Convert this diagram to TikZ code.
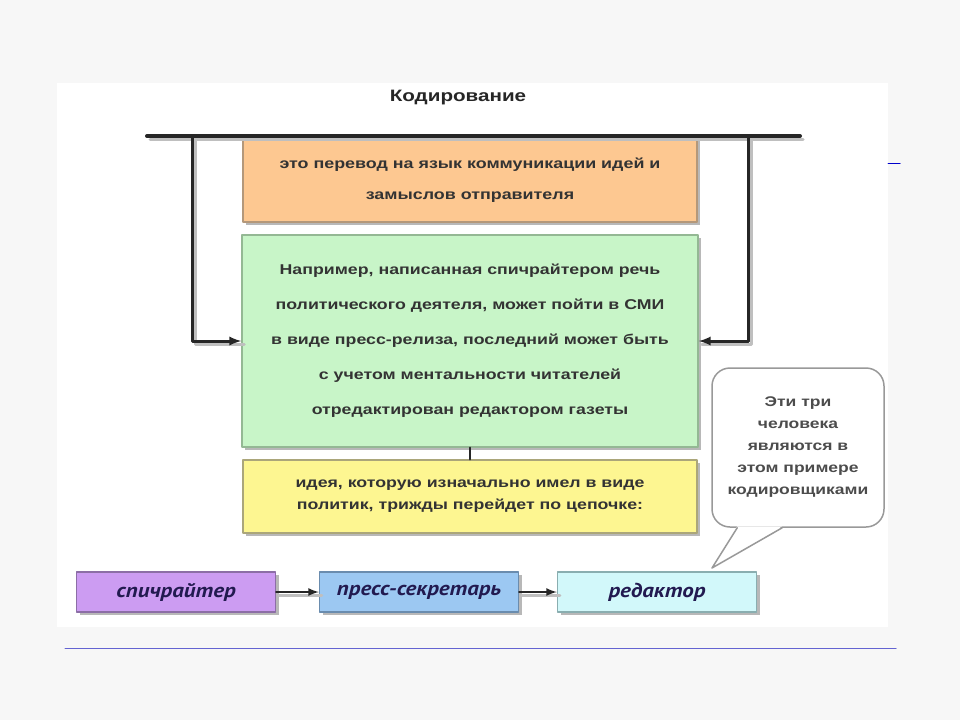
\documentclass[tikz,border=0pt]{standalone}
\usepackage{fontspec}
\setmainfont{Liberation Sans}[FakeStretch=1.25]
\newfontfamily\labelfont{PT Sans}[FakeStretch=1.15]
\usetikzlibrary{arrows,calc,shadows}
\definecolor{pagebg}{HTML}{F7F7F7}
\definecolor{orangefill}{HTML}{FDC891}
\definecolor{orangeline}{HTML}{B4987A}
\definecolor{greenfill}{HTML}{C8F5C8}
\definecolor{greenline}{HTML}{94B894}
\definecolor{yellowfill}{HTML}{FDF691}
\definecolor{yellowline}{HTML}{ABA67A}
\definecolor{purplefill}{HTML}{CC9CF2}
\definecolor{purpleline}{HTML}{8C6EA6}
\definecolor{bluefill}{HTML}{9CC8F2}
\definecolor{blueline}{HTML}{6A8CAE}
\definecolor{cyanfill}{HTML}{D2F8FA}
\definecolor{cyanline}{HTML}{8AAEB0}
\definecolor{labeltext}{HTML}{221A50}
\definecolor{rulecolor}{HTML}{6464D2}
\tikzstyle{every path}=[line cap=round,line join=round]
\tikzstyle{box}=[draw,line width=1.5pt,align=center,text=black!80,
  drop shadow={shadow xshift=3pt,shadow yshift=-3pt,fill=black!28,opacity=1}]
\tikzstyle{chainbox}=[box,minimum width=199pt,minimum height=40pt,text=labeltext,
  font=\labelfont\fontsize{20}{22}\selectfont\bfseries\itshape]
\tikzstyle{shade}=[black!25,line width=3pt,transform canvas={xshift=3pt,yshift=-3pt}]
\tikzstyle{bar}=[black!85,line width=4pt]
\tikzstyle{feed}=[black!85,line width=3pt]
\tikzstyle{link}=[black!85,line width=2.5pt]
\tikzstyle{bubble}=[draw=black!40,line width=1.5pt,fill=white,rounded corners=18pt,
  minimum width=172pt,minimum height=159pt,align=center,text=black!70,
  font=\fontsize{14}{22}\selectfont\bfseries]

\begin{document}
\begin{tikzpicture}[x=1pt,y=-1pt]
 \fill[pagebg] (0,0) rectangle (960,720);
 \useasboundingbox (0,0) rectangle (960,720);
 \fill[white] (57,83) rectangle (888,627);

 \node[text=black!85,font=\fontsize{16.5}{19}\selectfont\bfseries] (title) at (458,98) {Кодирование};

 \node[box,fill=orangefill,draw=orangeline,minimum width=454pt,minimum height=84pt,
   font=\fontsize{14.3}{31}\selectfont\bfseries] (intro) at (470,180)
   {это перевод на язык коммуникации идей и\\замыслов отправителя};
 \node[box,fill=greenfill,draw=greenline,minimum width=456pt,minimum height=212pt,
   font=\fontsize{14.2}{35}\selectfont\bfseries] (example) at (470,341)
   {Например, написанная спичрайтером речь\\политического деятеля, может пойти в СМИ\\в виде пресс-релиза, последний может быть\\с учетом ментальности читателей\\отредактирован редактором газеты};
 \node[box,fill=yellowfill,draw=yellowline,minimum width=454pt,minimum height=73pt,
   font=\fontsize{14.2}{22}\selectfont\bfseries] (idea) at (470,496.5)
   {идея, которую изначально имел в виде\\политик, трижды перейдет по цепочке:};

 \node[chainbox,fill=purplefill,draw=purpleline] (writer) at (176,592) {спичрайтер};
 \node[chainbox,fill=bluefill,draw=blueline] (press) at (419,592) {пресс-секретарь};
 \node[chainbox,fill=cyanfill,draw=cyanline] (editor) at (657,592) {редактор};

 \coordinate (barL) at (147,136);
 \coordinate (barR) at (800,136);
 \coordinate (lTop) at (192,136);
 \coordinate (rTop) at (748,136);

 \draw[shade] (barL) -- (barR);
 \draw[shade] (lTop) |- (example.west);
 \draw[shade] (rTop) |- (example.east);
 \draw[shade] (writer.east) -- (press.west);
 \draw[shade] (press.east) -- (editor.west);
 \draw[bar] (barL) -- (barR);
 \draw[feed,-latex] (lTop) |- (example.west);
 \draw[feed,-latex] (rTop) |- (example.east);
 \draw[link] (example.south) -- (idea.north);
 \draw[link,-latex] (writer.east) -- (press.west);
 \draw[link,-latex] (press.east) -- (editor.west);

 \node[bubble] (note) at (798,447.5) {Эти три\\человека\\являются в\\этом примере\\кодировщиками};
 \coordinate (tip) at (712,568);
 \fill[white] ($(note.south west)+(26,-1.5)$) -- (tip) -- ($(note.south west)+(71,-1.5)$) -- cycle;
 \draw[draw=black!40,line width=1.5pt] ($(note.south west)+(26,0)$) -- (tip) -- ($(note.south west)+(71,0)$);

 \draw[rulecolor,line width=1pt] (65,648) -- (896,648);
 \draw[blue!80!black,line width=1pt] (888,163) -- (900,163);
\end{tikzpicture}
\end{document}
